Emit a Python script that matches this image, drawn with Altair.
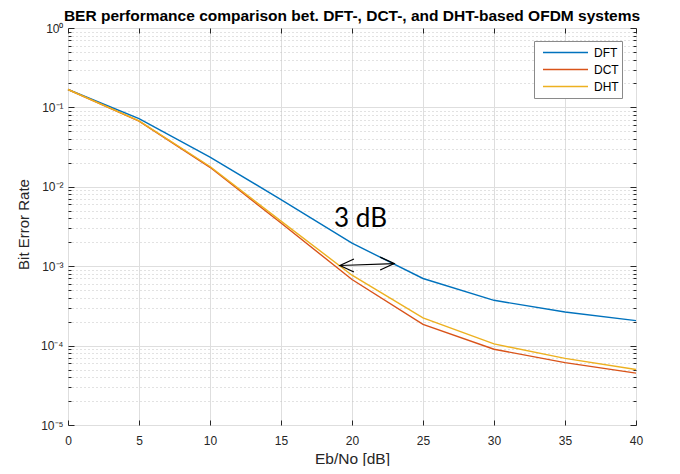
import altair as alt
import pandas as pd

# ---------------- data ----------------
snr_db = [0, 5, 10, 15, 20, 25, 30, 35, 40]
ber_dft = [0.168, 0.0722, 0.0237, 0.0069, 1.95e-3, 7.0e-4, 3.72e-4, 2.65e-4, 2.06e-4]
ber_dct = [0.168, 0.0670, 0.0176, 3.5e-3, 6.8e-4, 1.85e-4, 9.0e-5, 6.1e-5, 4.5e-5]
ber_dht = [0.168, 0.0675, 0.0180, 3.7e-3, 7.7e-4, 2.23e-4, 1.05e-4, 6.9e-5, 5.0e-5]
series_names = ["DFT", "DCT", "DHT"]
series_colors = ["#0072BD", "#D95319", "#EDB120"]

x_ticks = [0, 5, 10, 15, 20, 25, 30, 35, 40]
y_major = [1e-5, 1e-4, 1e-3, 1e-2, 1e-1, 1.0]
y_minor = [k * 10.0 ** e for e in range(-5, 0) for k in range(2, 10)]

annot_x = [20.6]
annot_y = [3.12e-3]
annot_text = ["3 dB"]
arrow_x = [19.15, 22.97]
arrow_y = [1.02e-3, 1.08e-3]
arrow_end = ["L", "R"]

# ---------------- tables ----------------
rows = []
for name, vals in zip(series_names, [ber_dft, ber_dct, ber_dht]):
    for x, v in zip(snr_db, vals):
        rows.append({"snr": x, "ber": v, "scheme": name})
df = pd.DataFrame(rows)
df_annot = pd.DataFrame({"x": annot_x, "y": annot_y, "t": annot_text})
df_arrow = pd.DataFrame({"x": arrow_x, "y": arrow_y, "end": arrow_end})

W, H = 568, 397
FONT = "Liberation Sans"
INK = "#262626"

xscale = alt.Scale(domain=[0, 40], nice=False, zero=False)
yscale = alt.Scale(type="log", domain=[1e-5, 1], nice=False)

is_major = "abs(log(datum.value)/LN10 - round(log(datum.value)/LN10)) < 0.01"
sup = "['10\u2070','10\u207b\u00b9','10\u207b\u00b2','10\u207b\u00b3','10\u207b\u2074','10\u207b\u2075'][round(-log(datum.value)/LN10)]"
label_expr = f"({is_major}) ? {sup} : ''"

x_axis = alt.Axis(
    values=x_ticks, orient="bottom", title="Eb/No [dB]",
    grid=True, gridColor="#dedede", gridWidth=1,
    ticks=False, domain=False,
    labelFont=FONT, labelFontSize=12, labelColor=INK, labelPadding=10,
    labelFlush=False, labelOverlap=False,
    titleFont=FONT, titleFontSize=15.5, titleColor=INK, titleFontWeight="normal",
    titleY=38, titleBaseline="alphabetic",
)
y_axis = alt.Axis(
    values=y_major + y_minor, orient="left", title="Bit Error Rate",
    grid=True,
    gridColor={"condition": {"test": is_major, "value": "#dedede"}, "value": "#c4c4c4"},
    gridDash={"condition": {"test": is_major, "value": []}, "value": [1, 3]},
    ticks=False, domain=False,
    labelExpr=label_expr, labelOverlap=False, labelFlush=False,
    labelFont=FONT, labelFontSize=12, labelColor=INK, labelPadding=5,
    titleFont=FONT, titleFontSize=15, titleColor=INK, titleFontWeight="normal",
    titleX=-40, titleY=196, titleAngle=270, titleBaseline="alphabetic", titleAlign="center",
)

lines = alt.Chart(df).mark_line(strokeWidth=1.4).encode(
    x=alt.X("snr:Q", scale=xscale, axis=x_axis),
    y=alt.Y("ber:Q", scale=yscale, axis=y_axis),
    color=alt.Color(
        "scheme:N",
        scale=alt.Scale(domain=series_names, range=series_colors),
        sort=series_names,
        legend=alt.Legend(
            orient="none", legendX=466, legendY=13, title=None,
            symbolType="stroke", symbolSize=2025, symbolStrokeWidth=1.5,
            clipHeight=17, rowPadding=0, padding=3, symbolOffset=5, labelOffset=5,
            labelFont=FONT, labelFontSize=12, labelColor="#000",
            strokeColor="#8a8a8a", fillColor="white",
        ),
    ),
    order=alt.Order("snr:Q"),
)

tick_size_y = {"condition": {"test": is_major, "value": 6}, "value": 3}

# inward ticks on the bottom and left edges
ticks_a = alt.Chart(df).mark_line(opacity=0).encode(
    x=alt.X("snr:Q", scale=xscale, axis=alt.Axis(
        values=x_ticks, orient="bottom", tickSize={"expr": "-5"}, ticks=True,
        tickColor=INK, labels=False, domain=False, grid=False, title=None)),
    y=alt.Y("ber:Q", scale=yscale, axis=alt.Axis(
        values=y_major + y_minor, orient="right", offset=-W, ticks=True,
        tickSize=tick_size_y, tickColor=INK, labels=False, domain=False,
        grid=False, title=None)),
    detail="scheme:N",
)
# inward ticks on the top and right edges
ticks_b = alt.Chart(df).mark_line(opacity=0).encode(
    x=alt.X("snr:Q", scale=xscale, axis=alt.Axis(
        values=x_ticks, orient="bottom", offset=-H, tickSize=5, ticks=True,
        tickColor=INK, labels=False, domain=False, grid=False, title=None)),
    y=alt.Y("ber:Q", scale=yscale, axis=alt.Axis(
        values=y_major + y_minor, orient="left", offset=-W, ticks=True,
        tickSize=tick_size_y, tickColor=INK, labels=False, domain=False,
        grid=False, title=None)),
    detail="scheme:N",
)

annot = alt.Chart(df_annot).mark_text(
    font="Lato", fontSize=26, align="center", baseline="alphabetic", color="#000"
).encode(
    x=alt.X("x:Q", scale=xscale, axis=None),
    y=alt.Y("y:Q", scale=yscale, axis=None),
    text="t:N",
)

shaft = alt.Chart(df_arrow).mark_line(color="#000", strokeWidth=1.2).encode(
    x=alt.X("x:Q", scale=xscale, axis=None),
    y=alt.Y("y:Q", scale=yscale, axis=None),
)
heads = alt.Chart(df_arrow).mark_point(
    filled=False, color="#000", strokeWidth=1.2, opacity=1, size=784
).encode(
    x=alt.X("x:Q", scale=xscale, axis=None),
    y=alt.Y("y:Q", scale=yscale, axis=None),
    shape=alt.Shape("end:N", scale=alt.Scale(
        domain=["L", "R"],
        range=["M 1 -0.46 L 0 0 L 1 0.46", "M -1 -0.46 L 0 0 L -1 0.46"]),
        legend=None),
)

chart = alt.layer(lines, ticks_a, ticks_b, annot, shaft, heads).resolve_axis(
    x="independent", y="independent"
).properties(
    width=W, height=H,
    autosize="none",
    padding={"left": 60, "top": 20, "right": 36, "bottom": 41},
    title=alt.TitleParams(
        "BER performance comparison bet. DFT-, DCT-, and DHT-based OFDM systems",
        font=FONT, fontSize=15.5, fontWeight="bold", color="#000",
        anchor="middle", frame="group", offset=-2.5,
    ),
).configure_view(stroke=INK, strokeWidth=1).configure(background="white")

chart.save("out.html", embed_options={"renderer": "svg", "actions": False})
